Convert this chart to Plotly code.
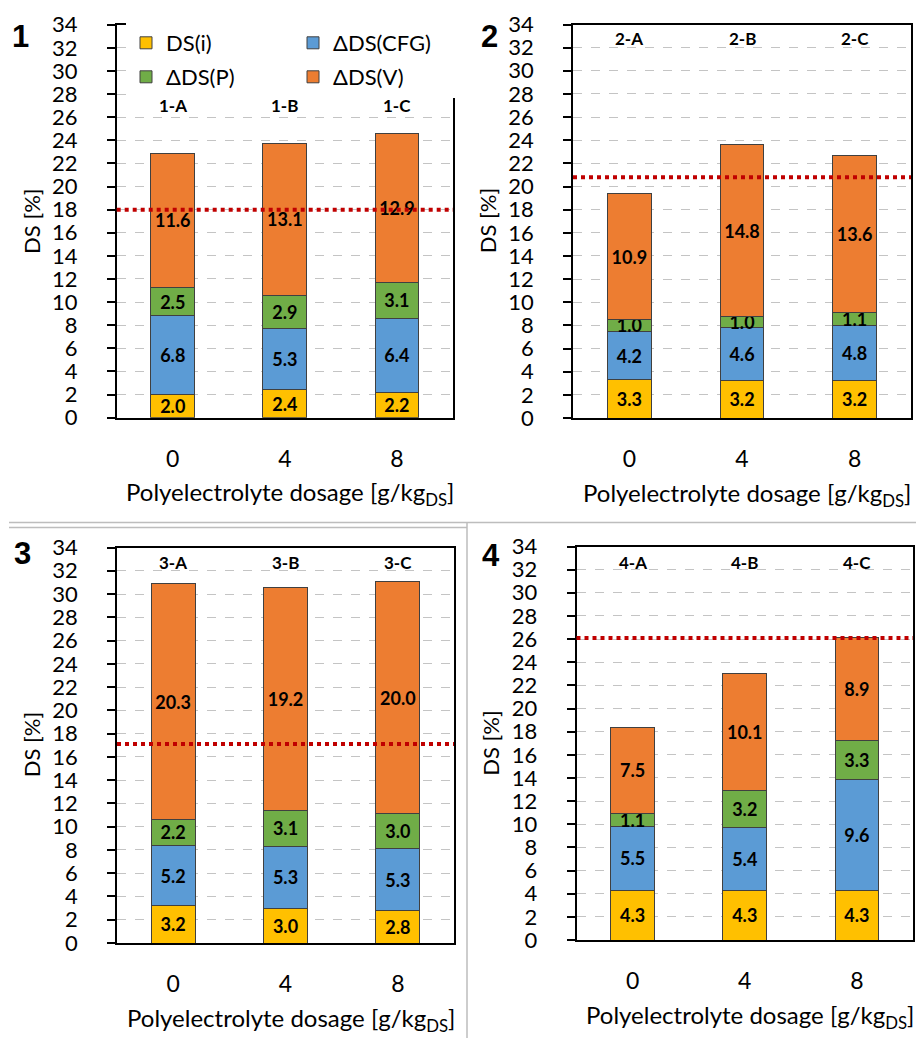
import plotly.graph_objects as go

# The page adds an 8 px body margin, so the figure is drawn 8 px smaller
# and all pixel positions below are expressed in page coordinates.
PAGE_W, PAGE_H = 924, 1038
OFF = 8
W, H = PAGE_W - OFF, PAGE_H - OFF

# ---------------- data ----------------
dosage = ["0", "4", "8"]
series_names = ["DS(i)", "ΔDS(CFG)", "ΔDS(P)", "ΔDS(V)"]
series_colors = ["#FFC000", "#5B9BD5", "#70AD47", "#ED7D31"]

p1_ds_i = [2.0, 2.4, 2.2]
p1_cfg = [6.8, 5.3, 6.4]
p1_p = [2.5, 2.9, 3.1]
p1_v = [11.6, 13.1, 12.9]

p2_ds_i = [3.3, 3.2, 3.2]
p2_cfg = [4.2, 4.6, 4.8]
p2_p = [1.0, 1.0, 1.1]
p2_v = [10.9, 14.8, 13.6]

p3_ds_i = [3.2, 3.0, 2.8]
p3_cfg = [5.2, 5.3, 5.3]
p3_p = [2.2, 3.1, 3.0]
p3_v = [20.3, 19.2, 20.0]

p4_ds_i = [4.3, 4.3, 4.3]
p4_cfg = [5.5, 5.4, 9.6]
p4_p = [1.1, 3.2, 3.3]
p4_v = [7.5, 10.1, 8.9]

panel_numbers = ["1", "2", "3", "4"]
bar_labels = [["1-A", "1-B", "1-C"], ["2-A", "2-B", "2-C"],
              ["3-A", "3-B", "3-C"], ["4-A", "4-B", "4-C"]]
bar_label_level = [27.0, 32.8, 32.7, 32.6]
ref_levels = [18.0, 20.8, 17.1, 26.1]
y_ticks = list(range(0, 35, 2))

panels = [
    [p1_ds_i, p1_cfg, p1_p, p1_v],
    [p2_ds_i, p2_cfg, p2_p, p2_v],
    [p3_ds_i, p3_cfg, p3_p, p3_v],
    [p4_ds_i, p4_cfg, p4_p, p4_v],
]

# ---------------- layout geometry (page pixels) ----------------
boxes = [
    (116.7, 453.0, 24.7, 417.7),
    (573.0, 911.0, 24.5, 418.0),
    (117.0, 454.0, 547.5, 943.0),
    (576.5, 913.0, 546.5, 940.0),
]
num_pos = [(20, 36), (489, 36), (22, 553), (491, 555)]

FONT = "Lato"
xpos = list(range(len(dosage)))  # category slots on the x axes


def px(x):
    return (x - OFF) / W


def py(y):
    return 1 - (y - OFF) / H


fig = go.Figure()
annotations = []
shapes = []

for i, (series, box) in enumerate(zip(panels, boxes)):
    n = "" if i == 0 else str(i + 1)
    xa, ya = "x" + n, "y" + n
    for k, (vals, name, col) in enumerate(zip(series, series_names, series_colors)):
        tr = dict(
            x=xpos, y=vals, name=name, xaxis=xa, yaxis=ya,
            marker=dict(color=col, line=dict(color="#404040", width=1)),
            texttemplate="%{y:.1f}", textposition="inside",
            insidetextanchor="middle", textangle=0,
            insidetextfont=dict(family=FONT, size=18, color="black", weight="bold"),
            hoverinfo="skip",
            showlegend=(i == 0),
        )
        if i == 0:
            tr["legend"] = "legend" if k < 2 else "legend2"
        fig.add_trace(go.Bar(**tr))

    l, r, t, b = box
    axis_common = dict(showline=True, mirror=True, linecolor="black", linewidth=1.5,
                       automargin=False, fixedrange=True, zeroline=False)
    fig.layout["xaxis" + n] = dict(
        domain=[px(l), px(r)], anchor=ya, range=[-0.5, len(dosage) - 0.5],
        tickvals=xpos, ticktext=dosage,
        ticks="", tickfont=dict(family=FONT, size=23, color="black"),
        ticklabelstandoff=20, showgrid=False, **axis_common)
    fig.layout["yaxis" + n] = dict(
        domain=[py(b), py(t)], anchor=xa, range=[0, 34],
        tickvals=y_ticks, ticks="outside", ticklen=8, tickwidth=1.5, tickcolor="black",
        tickfont=dict(family=FONT, size=22, color="black"), ticklabelstandoff=25,
        showgrid=True, gridcolor="#c4c4c4", griddash="dash", gridwidth=1,
        **axis_common)

    shapes.append(dict(type="line", xref=xa + " domain", yref=ya, x0=0, x1=1,
                       y0=ref_levels[i], y1=ref_levels[i],
                       line=dict(color="#C00000", width=4, dash="dot"), layer="above"))

    for xp_, lab in zip(xpos, bar_labels[i]):
        annotations.append(dict(x=xp_, y=bar_label_level[i], xref=xa, yref=ya,
                                text="<b>" + lab + "</b>", showarrow=False,
                                font=dict(family=FONT, size=17, color="black")))

    annotations.append(dict(x=px((l + r) / 2 + 5), y=py(b + 76), xref="paper", yref="paper",
                            text="Polyelectrolyte dosage [g/kg<sub>DS</sub>]", showarrow=False,
                            xanchor="center", yanchor="middle",
                            font=dict(family=FONT, size=24, color="black")))
    annotations.append(dict(x=px(l - 86), y=py((t + b) / 2), xref="paper", yref="paper",
                            text="DS [%]", textangle=-90, showarrow=False,
                            xanchor="center", yanchor="middle",
                            font=dict(family=FONT, size=22, color="black")))
    nx, ny = num_pos[i]
    annotations.append(dict(x=px(nx), y=py(ny), xref="paper", yref="paper",
                            text="<b>" + panel_numbers[i] + "</b>", showarrow=False,
                            xanchor="center", yanchor="middle",
                            font=dict(family="Liberation Sans", size=31, color="black")))

sep = dict(color="#bdbdbd", width=1.5)
shapes += [
    dict(type="line", xref="paper", yref="paper", x0=px(9), x1=px(921), y0=py(522.5), y1=py(522.5), line=sep),
    dict(type="line", xref="paper", yref="paper", x0=px(920.5), x1=px(920.5), y0=py(8), y1=py(522.5), line=sep),
    dict(type="line", xref="paper", yref="paper", x0=px(9), x1=px(467), y0=py(527.5), y1=py(527.5), line=sep),
    dict(type="line", xref="paper", yref="paper", x0=px(467), x1=px(467), y0=py(523), y1=py(1038), line=sep),
]

legend_common = dict(orientation="h", xref="container", yref="container", xanchor="left", yanchor="middle",
                     bgcolor="white", borderwidth=0, entrywidth=122, entrywidthmode="pixels",
                     font=dict(family=FONT, size=22, color="black"), traceorder="normal",
                     itemclick=False, itemdoubleclick=False)

fig.update_layout(
    width=W, height=H, margin=dict(l=0, r=0, t=0, b=0, autoexpand=False),
    paper_bgcolor="white", plot_bgcolor="white",
    barmode="stack", bargap=0.61,
    uniformtext=dict(mode="show", minsize=18),
    legend=dict(x=px(126), y=py(43), **legend_common),
    legend2=dict(x=px(126), y=py(77), **legend_common),
    annotations=annotations, shapes=shapes,
    font=dict(family=FONT, color="black"),
)

fig.write_html("out.html")
